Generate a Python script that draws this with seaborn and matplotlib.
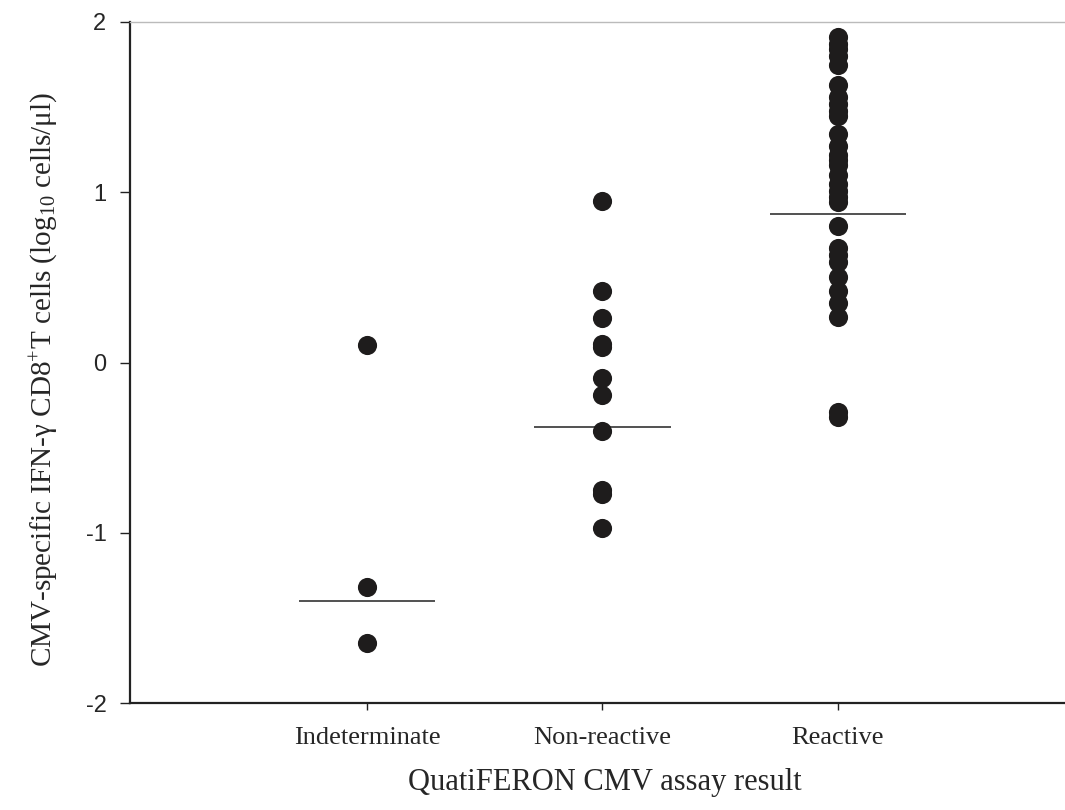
import matplotlib
matplotlib.use("Agg")
import matplotlib.pyplot as plt
import seaborn as sns
import pandas as pd

categories = ["Indeterminate", "Non-reactive", "Reactive"]
indeterminate = [0.10, -1.32, -1.65]
non_reactive = [0.95, 0.42, 0.26, 0.11, 0.09, -0.09, -0.19, -0.40, -0.75, -0.77, -0.97]
reactive = [1.91, 1.87, 1.84, 1.80, 1.75, 1.63, 1.56, 1.52, 1.48, 1.45, 1.34,
            1.27, 1.22, 1.19, 1.16, 1.10, 1.05, 1.01, 0.97, 0.94, 0.80, 0.67,
            0.63, 0.59, 0.50, 0.42, 0.35, 0.27, -0.29, -0.32]
center_lines = [-1.40, -0.38, 0.87]
y_ticks = [-2, -1, 0, 1, 2]

sns.set_style("white")
plt.rcParams["font.family"] = ["Liberation Serif", "DejaVu Serif"]
plt.rcParams["mathtext.fontset"] = "custom"
plt.rcParams["mathtext.rm"] = "Liberation Serif"
plt.rcParams["mathtext.it"] = "Liberation Serif:italic"

df = pd.DataFrame({
    "group": [categories[0]] * len(indeterminate) + [categories[1]] * len(non_reactive)
             + [categories[2]] * len(reactive),
    "value": indeterminate + non_reactive + reactive,
})

W, H = 1065, 810
L, R, T, B = 130, 1065, 22, 703
fig = plt.figure(figsize=(W / 100, H / 100), dpi=100)
ax = fig.add_axes([L / W, 1 - B / H, (R - L) / W, (B - T) / H])

sns.stripplot(data=df, x="group", y="value", order=categories, jitter=False,
              color="#1e1c1c", size=13.8, linewidth=0, ax=ax, zorder=3)

for i, v in enumerate(center_lines):
    ax.hlines(v, i - 0.29, i + 0.29, color="#222222", linewidth=1.1, zorder=2)

ax.set_xlim(-1.006, 2.964)
ax.set_ylim(-2, 2)
ax.set_yticks(y_ticks)
ax.set_yticklabels([str(t) for t in y_ticks], family="Liberation Sans", fontsize=17)
ax.set_xticks(range(len(categories)))
ax.set_xticklabels(categories, fontsize=19)

for s in ["left", "bottom"]:
    ax.spines[s].set_color("#222222")
    ax.spines[s].set_linewidth(1.6)
ax.spines["right"].set_visible(False)
ax.spines["top"].set_color("#bbbbbb")
ax.spines["top"].set_linewidth(1.0)

ax.tick_params(axis="y", which="major", direction="out", length=7, width=1.0,
               color="#222222", left=True, pad=10)
ax.tick_params(axis="x", which="major", direction="out", length=5, width=1.0,
               color="#222222", bottom=True, pad=12)

ax.set_xlabel("QuatiFERON CMV assay result", fontsize=22)
ax.set_ylabel("CMV-specific IFN-\u03b3 CD8$^{+}$T cells (log$_{10}$ cells/\u03bcl)",
              fontsize=21)
ax.xaxis.set_label_coords((605 - L) / (R - L), (B - 768) / (B - T))
ax.yaxis.set_label_coords((60 - L) / (R - L), (B - 379) / (B - T))

fig.savefig("out.png", dpi=100)
